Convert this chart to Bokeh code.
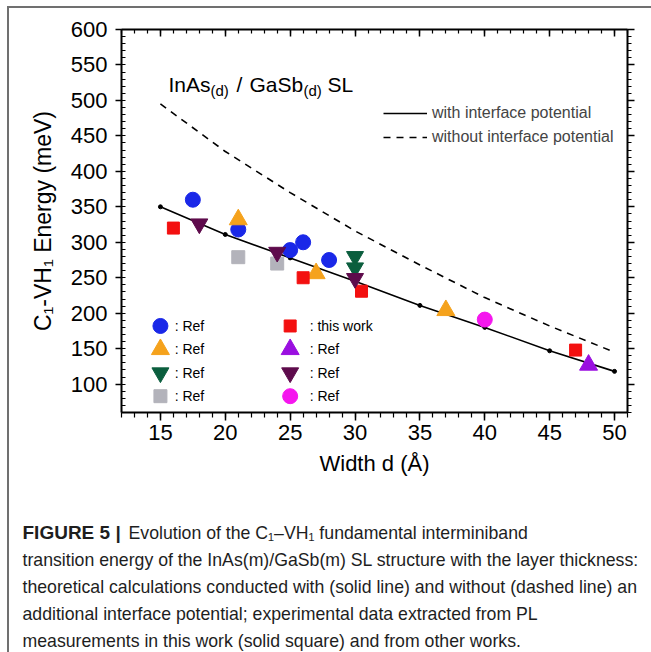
from bokeh.plotting import figure
from bokeh.layouts import column
from bokeh.models import (LinearAxis, Range1d, Label, Legend, LegendItem, SingleIntervalTicker)
from bokeh.core.properties import value
from bokeh.embed import file_html
from bokeh.resources import INLINE

# ---------------- data ----------------
d_theory = [15, 20, 25, 30, 35, 40, 45, 50]
e_with = [350, 311, 278, 245, 211, 180, 147, 118]
e_without = [495, 428, 370, 316, 268, 222, 182, 145]

blue_d, blue_e = [17.5, 21, 25, 26, 28], [360, 318, 289, 300, 275]
orange_d, orange_e = [21, 27, 37], [332, 256, 204]
green_d, green_e = [30, 30], [280, 264]
gray_d, gray_e = [21, 24], [279, 270]
red_d, red_e = [16, 26, 30.5, 47], [320, 250, 231, 148]
purple_d, purple_e = [48], [127]
maroon_d, maroon_e = [18, 24, 30], [326, 286, 249]
magenta_d, magenta_e = [40], [191]

x_ticks_interval = 5
y_ticks_interval = 50

FONT = "Liberation Sans"
OX, OY = 9, 8          # offset of the content inside the page frame

p = figure(width=642, height=482, x_range=Range1d(12, 51), y_range=Range1d(60, 600),
           output_backend="svg", toolbar_location=None,
           min_border_left=112, min_border_right=24, min_border_top=21, min_border_bottom=78,
           x_axis_label="Width d (Å)", y_axis_label="C₁-VH₁ Energy (meV)")
p.frame_align = False
p.xgrid.visible = False
p.ygrid.visible = False
p.outline_line_color = None
p.background_fill_color = "white"
p.border_fill_color = "white"

xt = SingleIntervalTicker(interval=x_ticks_interval, num_minor_ticks=5)
yt = SingleIntervalTicker(interval=y_ticks_interval, num_minor_ticks=5)

def style_axis(ax):
    ax.axis_line_color = "black"
    ax.axis_line_width = 2
    ax.major_tick_line_color = "black"
    ax.minor_tick_line_color = "black"
    ax.major_tick_line_width = 1.5
    ax.minor_tick_line_width = 1.2
    ax.major_label_text_font = FONT
    ax.major_label_text_color = "black"
    ax.axis_label_text_font = FONT
    ax.axis_label_text_font_style = "normal"
    ax.axis_label_text_color = "black"

ya = p.yaxis[0]
ya.ticker = yt
style_axis(ya)
ya.major_tick_out = 6
ya.major_tick_in = 0
ya.minor_tick_in = 4
ya.minor_tick_out = 0
ya.major_label_text_font_size = "22px"
ya.major_label_standoff = 8
ya.axis_label_text_font_size = "23px"
ya.axis_label_standoff = 12

xa = p.xaxis[0]
xa.ticker = xt
style_axis(xa)
xa.major_tick_out = 8
xa.major_tick_in = 0
xa.minor_tick_out = 5
xa.minor_tick_in = 0
xa.major_label_text_font_size = "22px"
xa.major_label_standoff = 4
xa.axis_label_text_font_size = "22px"
xa.axis_label_standoff = 8

ra = LinearAxis(ticker=SingleIntervalTicker(interval=y_ticks_interval, num_minor_ticks=5))
style_axis(ra)
ra.major_tick_out = 7
ra.major_tick_in = 0
ra.minor_tick_out = 4
ra.minor_tick_in = 0
ra.major_label_overrides = {v: "" for v in range(0, 700, 50)}
p.add_layout(ra, "right")

ta = LinearAxis(ticker=SingleIntervalTicker(interval=x_ticks_interval, num_minor_ticks=5))
style_axis(ta)
ta.major_tick_out = 0
ta.major_tick_in = 7
ta.minor_tick_out = 0
ta.minor_tick_in = 4
ta.major_label_overrides = {v: "" for v in range(0, 60, 5)}
p.add_layout(ta, "above")

# theory curves
r_with = p.line(d_theory, e_with, line_color="black", line_width=1.6)
p.scatter(d_theory, e_with, size=4, color="black")
r_without = p.line(d_theory, e_without, line_color="black", line_width=1.6, line_dash="7 6")

legend = Legend(items=[LegendItem(label="with interface potential", renderers=[r_with]),
                       LegendItem(label="without interface potential", renderers=[r_without])],
                location=(262, 265), padding=0, margin=0, border_line_color=None,
                background_fill_alpha=0, glyph_width=44, glyph_height=20, label_height=20,
                spacing=4, label_standoff=5, label_text_font=FONT, label_text_font_size="16px")
p.add_layout(legend)

# experimental series
series = [
    (blue_d, blue_e, "circle", "#1a28e8", 15, ": Ref", 0, 0),
    (orange_d, orange_e, "triangle", "#f5a21c", 18, ": Ref", 0, 1),
    (green_d, green_e, "inverted_triangle", "#0b5e3e", 17, ": Ref", 0, 2),
    (gray_d, gray_e, "square", "#b3b3bb", 13, ": Ref", 0, 3),
    (red_d, red_e, "square", "#f31010", 12, ": this work", 1, 0),
    (purple_d, purple_e, "triangle", "#9a0fe0", 18, ": Ref", 1, 1),
    (maroon_d, maroon_e, "inverted_triangle", "#5e0b4c", 17, ": Ref", 1, 2),
    (magenta_d, magenta_e, "circle", "#f516ee", 15, ": Ref", 1, 3),
]

leg_col_x = [15.0, 25.0]
leg_txt_dx = [1.1, 1.5]
leg_top = 182
leg_step = 33

for xs, ys, mk, col, sz, lab, c, r in series:
    p.scatter(xs, ys, marker=mk, size=sz, fill_color=col, line_color=col)
    ly = leg_top - r * leg_step
    p.scatter([leg_col_x[c]], [ly], marker=mk, size=sz, fill_color=col, line_color=col)
    p.text([leg_col_x[c] + leg_txt_dx[c]], [ly], text=[lab], text_font=value(FONT),
           text_font_size="14px", text_baseline="middle", text_align="left", text_color="black")

# in-plot title InAs(d) / GaSb(d) SL
title_parts = [("InAs", 168, 84, "21px"), ("(d)", 210, 90, "15px"), ("/", 236, 84, "21px"),
               ("GaSb", 249, 84, "21px"), ("(d)", 303, 90, "15px"), ("SL", 327, 84, "21px")]
for t, x, y, fs in title_parts:
    p.add_layout(Label(x=x - OX, y=y - OY, x_units="canvas", y_units="canvas", text=t,
                       text_font=FONT, text_font_size=fs, text_baseline="alphabetic",
                       text_align="left", text_color="black"))

# caption panel
cap = figure(width=642, height=162, x_range=Range1d(0, 1), y_range=Range1d(0, 1),
             output_backend="svg", toolbar_location=None, x_axis_type=None, y_axis_type=None,
             min_border=0)
cap.frame_align = False
cap.outline_line_color = None
cap.xgrid.visible = False
cap.ygrid.visible = False
CY = OY + 482
cap.add_layout(Label(x=22 - OX, y=532 - CY, x_units="canvas", y_units="canvas",
                     text="FIGURE 5 |", text_font=FONT, text_font_size="19px",
                     text_font_style="bold", text_baseline="alphabetic", text_color="#1e1e1e"))
caption = [
    (128, 532, "Evolution of the C₁–VH₁ fundamental interminiband"),
    (22, 559, "transition energy of the InAs(m)/GaSb(m) SL structure with the layer thickness:"),
    (22, 586, "theoretical calculations conducted with (solid line) and without (dashed line) an"),
    (22, 613, "additional interface potential; experimental data extracted from PL"),
    (22, 640, "measurements in this work (solid square) and from other works."),
]
for x, y, t in caption:
    cap.add_layout(Label(x=x - OX, y=y - CY, x_units="canvas", y_units="canvas", text=t,
                         text_font=FONT, text_font_size="17.7px", text_baseline="alphabetic",
                         text_color="#1e1e1e"))

layout = column(p, cap, spacing=0, margin=(6, 0, 0, 7),
                styles={"border-top": "2px solid #707070", "border-left": "2px solid #707070"})

open("out.html", "w").write(file_html(layout, INLINE))
